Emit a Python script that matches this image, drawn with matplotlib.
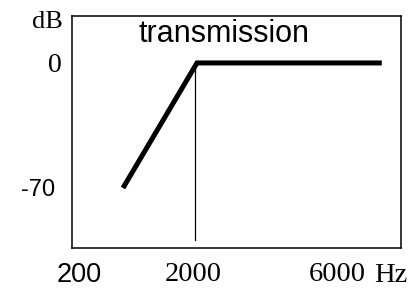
import matplotlib
matplotlib.use("Agg")
import matplotlib.pyplot as plt

# DATA (x in plot-position units, the frequency axis is not linear)
freq_labels = ["200", "2000", "6000"]
freq_pos = [0.21, 3.68, 8.07]
curve_x = [1.55, 3.80, 9.42]
curve_y = [-70, 0, 0]
cutoff_x = [3.74, 3.74]
cutoff_y = [0, -99]
db_ticks = [0, -70]
db_labels = ["0", "-70"]

SERIF = "Liberation Serif"
SANS = "Liberation Sans"

fig = plt.figure(figsize=(4.08, 2.89), dpi=100)
ax = fig.add_axes([0.1765, 0.1419, 0.806, 0.8028])

ax.plot(curve_x, curve_y, color="black", lw=3.6,
        solid_joinstyle="miter", solid_capstyle="butt")
ax.plot(cutoff_x, cutoff_y, color="black", lw=0.9)

ax.set_xlim(0, 10)
ax.set_ylim(-103.6, 26.3)

# X TICKS
ax.set_xticks(freq_pos)
ax.set_xticklabels(freq_labels)
ax.tick_params(length=0)
ax.tick_params(axis="x", pad=10)
for lab in ax.get_xticklabels():
    if lab.get_text() == "200":
        lab.set_fontfamily(SANS)
        lab.set_fontsize(19.5)
    else:
        lab.set_fontfamily(SERIF)
        lab.set_fontsize(20.5)

# Y LABELS (mixed fonts and offsets, drawn as text at data y)
ax.set_yticks([])
ytr = ax.get_yaxis_transform()
for val, lab in zip(db_ticks, db_labels):
    if lab == "-70":
        ax.text(-0.052, val, lab, transform=ytr, ha="right",
                va="center_baseline", fontsize=17, family=SANS)
    else:
        ax.text(-0.030, val, lab, transform=ytr, ha="right",
                va="center_baseline", fontsize=20, family=SERIF)

for sp in ax.spines.values():
    sp.set_linewidth(1.1)

ax.text(0.462, 0.922, "transmission", transform=ax.transAxes,
        ha="center", va="center", fontsize=22, family=SANS)
fig.text(0.155, 0.924, "dB", ha="right", va="center",
         fontsize=19, family=SERIF)
fig.text(0.958, 0.045, "Hz", ha="center", va="center",
         fontsize=20.5, family=SERIF)

fig.savefig("out.png", dpi=100)
